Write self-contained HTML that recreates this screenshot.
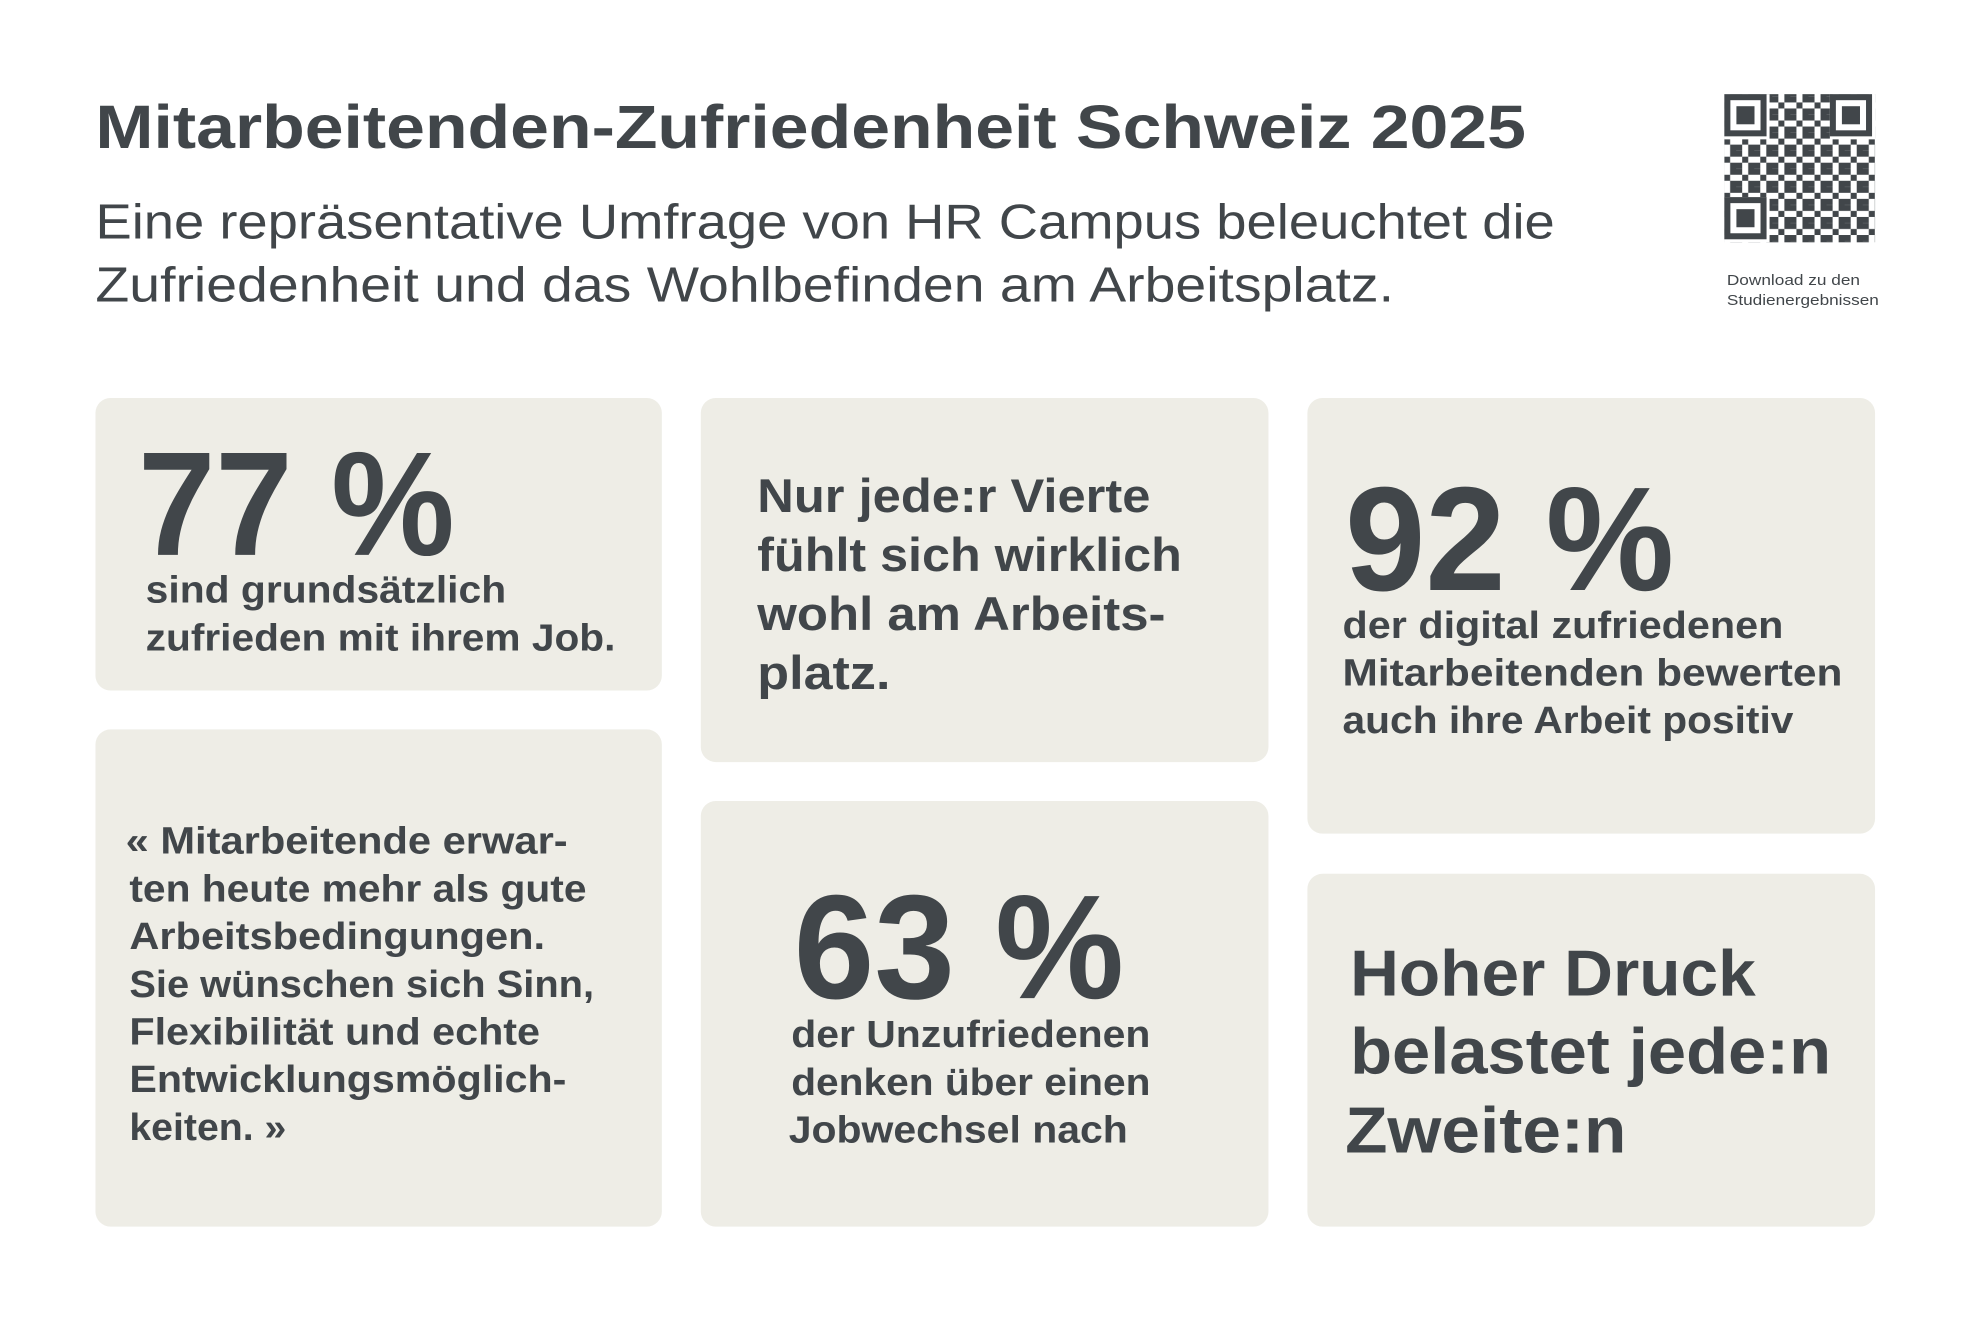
<!DOCTYPE html>
<html><head><meta charset="utf-8"><style>
html,body{margin:0;padding:0;background:#fff;width:1968px;height:1322px;overflow:hidden}
svg{display:block}
text{font-family:"Liberation Sans",sans-serif;fill:#41464a}
.b{font-weight:bold}
</style></head><body>
<svg width="1968" height="1322" viewBox="0 0 1567 1053" preserveAspectRatio="none" xmlns="http://www.w3.org/2000/svg">
<defs>
<pattern id="qp" width="14.4" height="14.4" patternUnits="userSpaceOnUse">
<rect x="0" y="0" width="4.8" height="4.8" fill="#41464a"/>
<rect x="9.6" y="0" width="4.8" height="9.6" fill="#41464a"/>
<rect x="4.8" y="9.6" width="4.8" height="4.8" fill="#41464a"/>
<rect x="0" y="4.8" width="4.8" height="4.8" fill="#41464a"/>
</pattern>
</defs>
<rect width="1567" height="1053" fill="#fff"/>
<text class="b" x="76" y="118" font-size="49" textLength="1139" lengthAdjust="spacingAndGlyphs">Mitarbeitenden-Zufriedenheit Schweiz 2025</text>
<text x="76" y="190" font-size="39" textLength="1162" lengthAdjust="spacingAndGlyphs">Eine repräsentative Umfrage von HR Campus beleuchtet die</text>
<text x="76" y="240" font-size="39" textLength="1034" lengthAdjust="spacingAndGlyphs">Zufriedenheit und das Wohlbefinden am Arbeitsplatz.</text>

<g>
<rect x="1373" y="75" width="120" height="118" fill="url(#qp)"/>
<rect x="1373" y="75" width="36" height="36" fill="#fff"/>
<rect x="1457" y="75" width="36" height="36" fill="#fff"/>
<rect x="1373" y="157" width="36" height="36" fill="#fff"/>
<g fill="none" stroke="#41464a" stroke-width="4.8">
<rect x="1375.4" y="77.4" width="28.8" height="28.8"/>
<rect x="1459.4" y="77.4" width="28.8" height="28.8"/>
<rect x="1375.4" y="159.4" width="28.8" height="28.8"/>
</g>
<rect x="1382.6" y="84.6" width="14.4" height="14.4" fill="#41464a"/>
<rect x="1466.6" y="84.6" width="14.4" height="14.4" fill="#41464a"/>
<rect x="1382.6" y="166.6" width="14.4" height="14.4" fill="#41464a"/>
</g>
<text x="1375" y="227" font-size="11.5" textLength="106" lengthAdjust="spacingAndGlyphs">Download zu den</text>
<text x="1375" y="243" font-size="11.5" textLength="121" lengthAdjust="spacingAndGlyphs">Studienergebnissen</text>

<g fill="#eeede6">
<rect x="76" y="317" width="451" height="233" rx="12"/>
<rect x="558" y="317" width="452" height="290" rx="12"/>
<rect x="1041" y="317" width="452" height="347" rx="12"/>
<rect x="76" y="581" width="451" height="396" rx="12"/>
<rect x="558" y="638" width="452" height="339" rx="12"/>
<rect x="1041" y="696" width="452" height="281" rx="12"/>
</g>

<text class="b" x="110" y="442" font-size="118" textLength="252" lengthAdjust="spacingAndGlyphs">77 %</text>
<text class="b" x="116" y="480" font-size="30" textLength="287" lengthAdjust="spacingAndGlyphs">sind grundsätzlich</text>
<text class="b" x="116" y="518" font-size="30" textLength="374" lengthAdjust="spacingAndGlyphs">zufrieden mit ihrem Job.</text>

<text class="b" x="603" y="408" font-size="38" textLength="313" lengthAdjust="spacingAndGlyphs">Nur jede:r Vierte</text>
<text class="b" x="603" y="455" font-size="38" textLength="338" lengthAdjust="spacingAndGlyphs">fühlt sich wirklich</text>
<text class="b" x="603" y="502" font-size="38" textLength="325" lengthAdjust="spacingAndGlyphs">wohl am Arbeits-</text>
<text class="b" x="603" y="549" font-size="38" textLength="106" lengthAdjust="spacingAndGlyphs">platz.</text>

<text class="b" x="1071" y="470" font-size="118" textLength="262" lengthAdjust="spacingAndGlyphs">92 %</text>
<text class="b" x="1069" y="508" font-size="30" textLength="351" lengthAdjust="spacingAndGlyphs">der digital zufriedenen</text>
<text class="b" x="1069" y="546" font-size="30" textLength="398" lengthAdjust="spacingAndGlyphs">Mitarbeitenden bewerten</text>
<text class="b" x="1069" y="584" font-size="30" textLength="359" lengthAdjust="spacingAndGlyphs">auch ihre Arbeit positiv</text>

<text class="b" x="100" y="680" font-size="30" textLength="352" lengthAdjust="spacingAndGlyphs">« Mitarbeitende erwar-</text>
<text class="b" x="103" y="718" font-size="30" textLength="364" lengthAdjust="spacingAndGlyphs">ten heute mehr als gute</text>
<text class="b" x="103" y="756" font-size="30" textLength="331" lengthAdjust="spacingAndGlyphs">Arbeitsbedingungen.</text>
<text class="b" x="103" y="794" font-size="30" textLength="370" lengthAdjust="spacingAndGlyphs">Sie wünschen sich Sinn,</text>
<text class="b" x="103" y="832" font-size="30" textLength="327" lengthAdjust="spacingAndGlyphs">Flexibilität und echte</text>
<text class="b" x="103" y="870" font-size="30" textLength="348" lengthAdjust="spacingAndGlyphs">Entwicklungsmöglich-</text>
<text class="b" x="103" y="908" font-size="30" textLength="125" lengthAdjust="spacingAndGlyphs">keiten. »</text>

<text class="b" x="632" y="795" font-size="118" textLength="263" lengthAdjust="spacingAndGlyphs">63 %</text>
<text class="b" x="630" y="834" font-size="30" textLength="286" lengthAdjust="spacingAndGlyphs">der Unzufriedenen</text>
<text class="b" x="630" y="872" font-size="30" textLength="286" lengthAdjust="spacingAndGlyphs">denken über einen</text>
<text class="b" x="628" y="910" font-size="30" textLength="270" lengthAdjust="spacingAndGlyphs">Jobwechsel nach</text>

<text class="b" x="1075" y="793" font-size="52" textLength="323" lengthAdjust="spacingAndGlyphs">Hoher Druck</text>
<text class="b" x="1075" y="855" font-size="52" textLength="383" lengthAdjust="spacingAndGlyphs">belastet jede:n</text>
<text class="b" x="1071" y="918" font-size="52" textLength="224" lengthAdjust="spacingAndGlyphs">Zweite:n</text>
</svg>
</body></html>
